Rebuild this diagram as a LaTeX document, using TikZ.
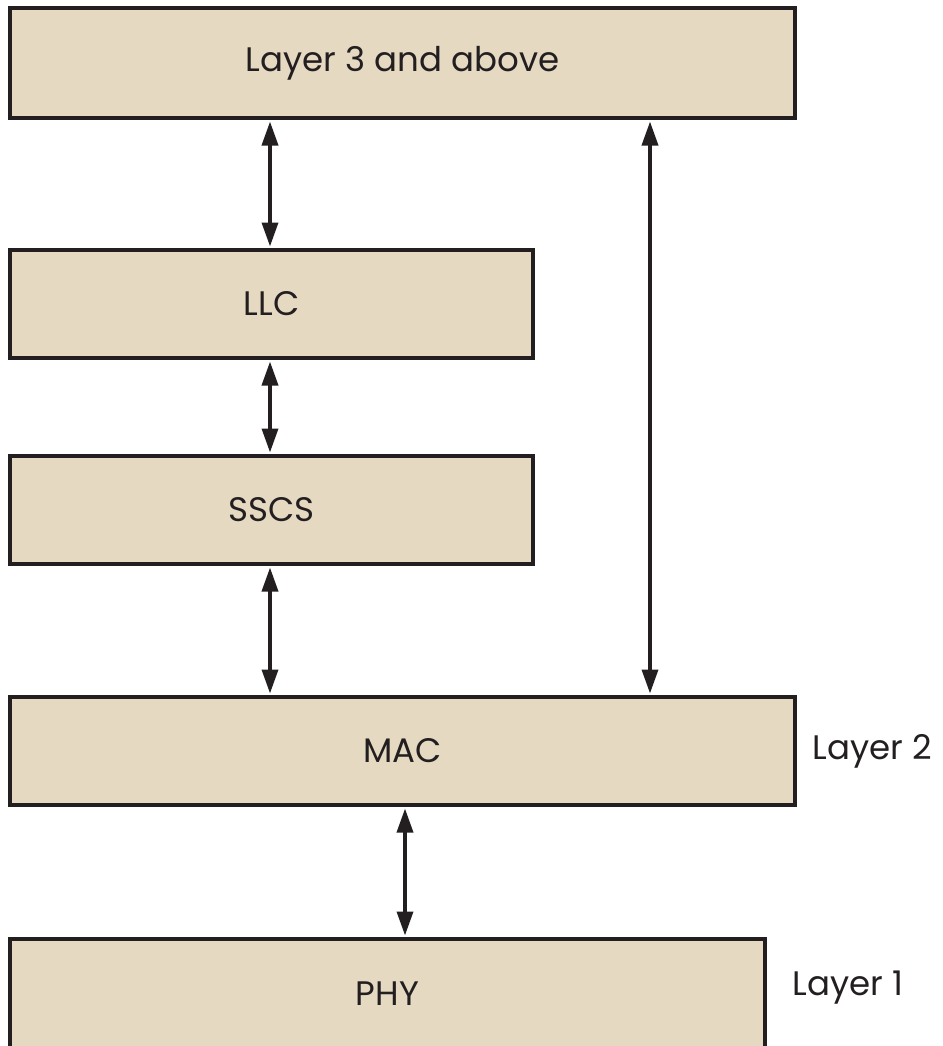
\documentclass[tikz,border=0pt]{standalone}
\usepackage{fontspec}
\setmainfont{Poppins}
\usetikzlibrary{arrows.meta,positioning}
\definecolor{boxfill}{HTML}{E5D9C2}
\definecolor{ink}{HTML}{231F20}
\begin{document}
\begin{tikzpicture}[x=1pt, y=-1pt,
  layerbox/.style={draw=ink, line width=4pt, fill=boxfill, text=ink, inner sep=0pt,
    font=\fontsize{34}{40}\selectfont},
  link/.style={draw=ink, line width=3.5pt, {Triangle[length=24pt,width=16pt]}-{Triangle[length=24pt,width=16pt]}, shorten <=1.5pt, shorten >=1.5pt},
  layername/.style={text=ink, font=\fontsize{34}{40}\selectfont}]
  \useasboundingbox (0,0) rectangle (942,1046);
  \node[layerbox, minimum width=785, minimum height=110] (l3) at (402.5,63) {Layer 3 and above};
  \node[layerbox, minimum width=523, minimum height=108] (llc) at (271.5,304) {LLC};
  \node[layerbox, minimum width=523, minimum height=108] (sscs) at (271.5,510) {SSCS};
  \node[layerbox, minimum width=785, minimum height=108] (mac) at (402.5,751) {MAC};
  \node[layerbox, minimum width=755, minimum height=114, anchor=north] (phy) at (387.5,937) {\raisebox{5pt}{PHY}};
  \node[layername, right=12pt of mac] (l2) {Layer 2};
  \node[layername] (l1) at (848,988) {Layer 1};
  \draw[link] (l3.south -| 270,0) -- (llc.north -| 270,0);
  \draw[link] (llc.south -| 270,0) -- (sscs.north -| 270,0);
  \draw[link] (sscs.south -| 270,0) -- (mac.north -| 270,0);
  \draw[link] (l3.south -| 650,0) -- (mac.north -| 650,0);
  \draw[link] (mac.south -| 405,0) -- (phy.north -| 405,0);
\end{tikzpicture}
\end{document}
